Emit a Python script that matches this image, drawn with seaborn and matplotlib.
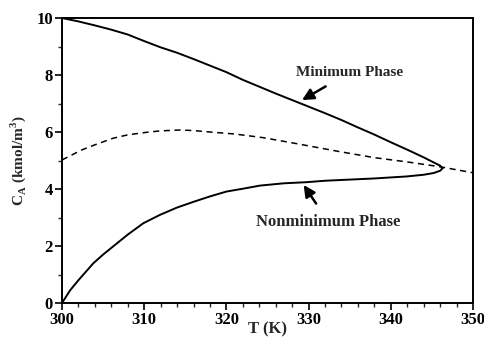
import matplotlib
matplotlib.use("Agg")
import matplotlib.pyplot as plt
import seaborn as sns
import pandas as pd

# ---- data ----
min_T = [300, 302, 304, 306, 308, 310, 312, 314, 316, 318, 320, 322, 324, 326, 328,
         330, 332, 334, 336, 338, 340, 342, 344, 345.3, 346, 346.3]
min_C = [10.0, 9.88, 9.74, 9.59, 9.42, 9.19, 8.97, 8.78, 8.56, 8.33, 8.10, 7.83, 7.59,
         7.35, 7.12, 6.89, 6.66, 6.42, 6.16, 5.91, 5.64, 5.38, 5.11, 4.92, 4.82, 4.73]

nonmin_T = [346.3, 346, 345.2, 344, 341.9, 338, 335, 332, 329.8, 327, 324.1, 322, 320,
            318, 316, 314, 311.9, 309.9, 308, 306.2, 305, 303.8, 302, 301, 300]
nonmin_C = [4.73, 4.64, 4.56, 4.50, 4.44, 4.37, 4.33, 4.29, 4.24, 4.20, 4.12, 4.01, 3.91,
            3.74, 3.55, 3.35, 3.09, 2.80, 2.40, 1.98, 1.70, 1.39, 0.80, 0.45, 0.0]

ss_T = [300, 302.4, 304, 306.2, 308, 310.3, 312, 314.4, 316, 318.4, 321, 324.5,
        328, 333.8, 338, 342, 346, 350]
ss_C = [5.02, 5.37, 5.55, 5.78, 5.90, 5.99, 6.04, 6.07, 6.05, 5.99, 5.93, 5.80,
        5.62, 5.31, 5.10, 4.95, 4.78, 4.57]

x_ticks = [300, 310, 320, 330, 340, 350]
y_ticks = [0, 2, 4, 6, 8, 10]

sns.set_style("ticks")
plt.rcParams['font.family'] = ['Liberation Serif', 'DejaVu Serif']
plt.rcParams['font.weight'] = 'bold'

fig = plt.figure(figsize=(4.85, 3.39), dpi=100)
ax = fig.add_axes([62/485, 1-303/339, 411/485, 285/339])

df_min = pd.DataFrame({"T": min_T, "C": min_C})
df_non = pd.DataFrame({"T": nonmin_T, "C": nonmin_C})
df_ss = pd.DataFrame({"T": ss_T, "C": ss_C})

sns.lineplot(data=df_min, x="T", y="C", sort=False, ax=ax, color="black", lw=1.4)
sns.lineplot(data=df_non, x="T", y="C", sort=False, ax=ax, color="black", lw=1.4)
sns.lineplot(data=df_ss, x="T", y="C", sort=False, ax=ax, color="black", lw=1.1,
             linestyle=(0, (4, 3)))

ax.set_xlim(300, 350)
ax.set_ylim(0, 10)
ax.set_xticks(x_ticks)
ax.set_yticks(y_ticks)
ax.set_xticks([t for t in range(300, 351, 2) if t % 10], minor=True)
ax.set_yticks([1, 3, 5, 7, 9], minor=True)
ax.tick_params(axis="both", which="major", direction="out", length=5, width=1.2,
               labelsize=12, pad=1.5, colors="black")
ax.tick_params(axis="both", which="minor", direction="out", length=3, width=1.0)
for lab in ax.get_xticklabels() + ax.get_yticklabels():
    lab.set_fontweight("bold")

for s in ax.spines.values():
    s.set_visible(True)
    s.set_linewidth(1.4)
    s.set_color("black")

ax.set_xlabel("T (K)", fontsize=12, fontweight="bold", labelpad=-5)
ax.set_ylabel(r"C$_\mathregular{A}$ (kmol/m$^\mathregular{3}$)", fontsize=11,
              fontweight="bold", labelpad=6)

ax.annotate("Minimum Phase", xy=(329.2, 7.12), xytext=(335, 8.09),
            ha="center", va="center", fontsize=11, fontweight="bold",
            arrowprops=dict(arrowstyle="-|>", color="black", lw=1.8,
                            mutation_scale=17, shrinkA=6, shrinkB=0))
ax.annotate("Nonminimum Phase", xy=(329.4, 4.14), xytext=(332.4, 2.85),
            ha="center", va="center", fontsize=12, fontweight="bold",
            arrowprops=dict(arrowstyle="-|>", color="black", lw=1.8,
                            mutation_scale=17, shrinkA=6, shrinkB=0))

fig.savefig("out.png", dpi=100)
